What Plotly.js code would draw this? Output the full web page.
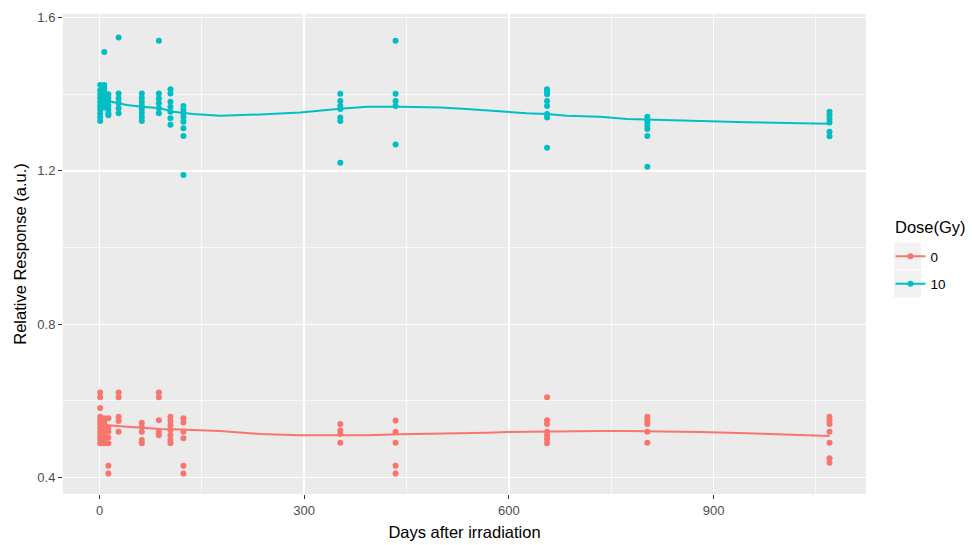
<!DOCTYPE html>
<html>
<head>
<meta charset="utf-8">
<script src="https://cdn.plot.ly/plotly-3.0.1.min.js"></script>
<style>html,body{margin:0;padding:0;background:#fff;}#chart{width:972px;height:545px;}</style>
</head>
<body>
<div id="chart"></div>
<script>
// Measurement days
var timePoints = [1, 7, 13, 28, 62, 87, 104, 123, 353, 434, 656, 803, 1070];

// Dose 0 Gy responses per time point
var dose0ByTime = [
  [0.622, 0.610, 0.582, 0.559, 0.550, 0.540, 0.530, 0.520, 0.510, 0.500, 0.490],
  [0.555, 0.545, 0.535, 0.520, 0.510, 0.500, 0.490],
  [0.555, 0.530, 0.520, 0.505, 0.490, 0.431, 0.411],
  [0.622, 0.610, 0.559, 0.548, 0.520],
  [0.543, 0.533, 0.520, 0.498, 0.490],
  [0.622, 0.610, 0.550, 0.520, 0.511],
  [0.559, 0.548, 0.537, 0.524, 0.511, 0.498, 0.490],
  [0.555, 0.544, 0.520, 0.503, 0.431, 0.411],
  [0.540, 0.523, 0.514, 0.491],
  [0.549, 0.520, 0.491, 0.431, 0.411],
  [0.610, 0.550, 0.540, 0.520, 0.510, 0.500, 0.490],
  [0.559, 0.550, 0.540, 0.520, 0.491],
  [0.559, 0.550, 0.540, 0.520, 0.491, 0.451, 0.439]
];

// Dose 10 Gy responses per time point
var dose10ByTime = [
  [1.424, 1.410, 1.400, 1.390, 1.380, 1.370, 1.360, 1.350, 1.340, 1.330],
  [1.510, 1.424, 1.415, 1.405, 1.395, 1.385, 1.375, 1.365],
  [1.400, 1.390, 1.380, 1.370, 1.360, 1.350, 1.345],
  [1.548, 1.402, 1.389, 1.376, 1.363, 1.350],
  [1.402, 1.390, 1.380, 1.370, 1.360, 1.350, 1.340, 1.330],
  [1.539, 1.402, 1.389, 1.376, 1.363, 1.350],
  [1.413, 1.402, 1.380, 1.367, 1.354, 1.337, 1.320],
  [1.369, 1.360, 1.350, 1.340, 1.328, 1.311, 1.291, 1.189],
  [1.401, 1.382, 1.369, 1.361, 1.339, 1.330, 1.221],
  [1.539, 1.401, 1.382, 1.369, 1.269],
  [1.413, 1.407, 1.400, 1.382, 1.369, 1.348, 1.339, 1.260],
  [1.341, 1.328, 1.318, 1.309, 1.291, 1.211],
  [1.354, 1.345, 1.335, 1.326, 1.302, 1.290]
];

// Smoothed trend lines
var smoothDays = [0, 13, 40, 62, 89, 108, 137, 177, 235, 294, 353, 392, 441, 500, 538, 568, 597, 626, 656, 685, 734, 773, 826, 880, 949, 1027, 1070];
var smooth0 = [0.538, 0.537, 0.533, 0.530, 0.527, 0.526, 0.524, 0.522, 0.514, 0.511, 0.511, 0.511, 0.513, 0.514, 0.516, 0.517, 0.519, 0.520, 0.521, 0.522, 0.522, 0.522, 0.521, 0.519, 0.516, 0.512, 0.509];
var smooth10 = [1.385, 1.382, 1.372, 1.367, 1.363, 1.354, 1.348, 1.344, 1.347, 1.352, 1.362, 1.367, 1.367, 1.365, 1.361, 1.358, 1.354, 1.350, 1.348, 1.344, 1.341, 1.335, 1.332, 1.329, 1.327, 1.324, 1.323];

var doseLabels = ['0', '10'];
var doseColors = ['#F8766D', '#00BFC4'];
var legendTitle = 'Dose(Gy)';

function flatten(byTime) {
  var xs = [], ys = [];
  byTime.forEach(function (vals, i) {
    vals.forEach(function (v) { xs.push(timePoints[i]); ys.push(v); });
  });
  return {x: xs, y: ys};
}

var groups = [flatten(dose0ByTime), flatten(dose10ByTime)];
var smooths = [smooth0, smooth10];
var traces = [];
groups.forEach(function (g, i) {
  traces.push({type: 'scatter', mode: 'markers', x: g.x, y: g.y, showlegend: false, hoverinfo: 'skip',
    marker: {color: doseColors[i], size: 6}});
});
smooths.forEach(function (s, i) {
  traces.push({type: 'scatter', mode: 'lines', x: smoothDays, y: s, showlegend: false, hoverinfo: 'skip',
    line: {color: doseColors[i], width: 2}});
});
doseLabels.forEach(function (lab, i) {
  traces.push({type: 'scatter', mode: 'lines+markers', x: [null], y: [null], name: lab, legendgroup: 'g' + i,
    marker: {color: doseColors[i], size: 6}, line: {color: doseColors[i], width: 2}});
});

var font = 'Liberation Sans, Arial, sans-serif';
var keyBox = function (y0, y1) {
  return {type: 'rect', xref: 'paper', yref: 'paper', x0: 1.0349, x1: 1.0685, y0: y0, y1: y1,
    fillcolor: '#F2F2F2', line: {width: 0}, layer: 'below'};
};
var layout = {
  width: 972, height: 545,
  margin: {l: 63, r: 106, t: 14, b: 51, autoexpand: false},
  paper_bgcolor: '#ffffff', plot_bgcolor: '#EBEBEB',
  font: {family: font, color: '#000000'},
  xaxis: {
    range: [-53.5, 1123.5], tickvals: [0, 300, 600, 900], zeroline: false,
    showgrid: true, gridcolor: '#ffffff', gridwidth: 1.4,
    minor: {tickvals: [150, 450, 750, 1050], showgrid: true, gridcolor: '#ffffff', gridwidth: 0.7, ticklen: 0},
    ticks: 'outside', ticklen: 4, tickcolor: '#333333', tickwidth: 1,
    tickfont: {size: 13, color: '#4D4D4D', family: font},
    showline: false,
    title: {text: 'Days after irradiation', font: {size: 16.5, color: '#000000', family: font}, standoff: 9}
  },
  yaxis: {
    range: [0.3575, 1.609], tickvals: [0.4, 0.8, 1.2, 1.6], ticktext: ['0.4', '0.8', '1.2', '1.6'], zeroline: false,
    showgrid: true, gridcolor: '#ffffff', gridwidth: 1.4,
    minor: {tickvals: [0.6, 1.0, 1.4], showgrid: true, gridcolor: '#ffffff', gridwidth: 0.7, ticklen: 0},
    ticks: 'outside', ticklen: 4, tickcolor: '#333333', tickwidth: 1,
    tickfont: {size: 13, color: '#4D4D4D', family: font},
    showline: false,
    title: {text: 'Relative Response (a.u.)', font: {size: 16.5, color: '#000000', family: font}, standoff: 6}
  },
  legend: {
    x: 1.0305, xanchor: 'left', y: 0.527, yanchor: 'top',
    bgcolor: 'rgba(0,0,0,0)', font: {size: 13.5, family: font, color: '#000000'},
    itemwidth: 30, tracegroupgap: 7, traceorder: 'grouped'
  },
  annotations: [{text: legendTitle, xref: 'paper', yref: 'paper', x: 1.0336, y: 0.556, xanchor: 'left', yanchor: 'middle',
    showarrow: false, font: {size: 16.5, family: font, color: '#000000'}}],
  shapes: [keyBox(0.4677, 0.524), keyBox(0.4094, 0.4656)],
  showlegend: true
};

Plotly.newPlot('chart', traces, layout, {displayModeBar: false, staticPlot: true});
</script>
</body>
</html>
